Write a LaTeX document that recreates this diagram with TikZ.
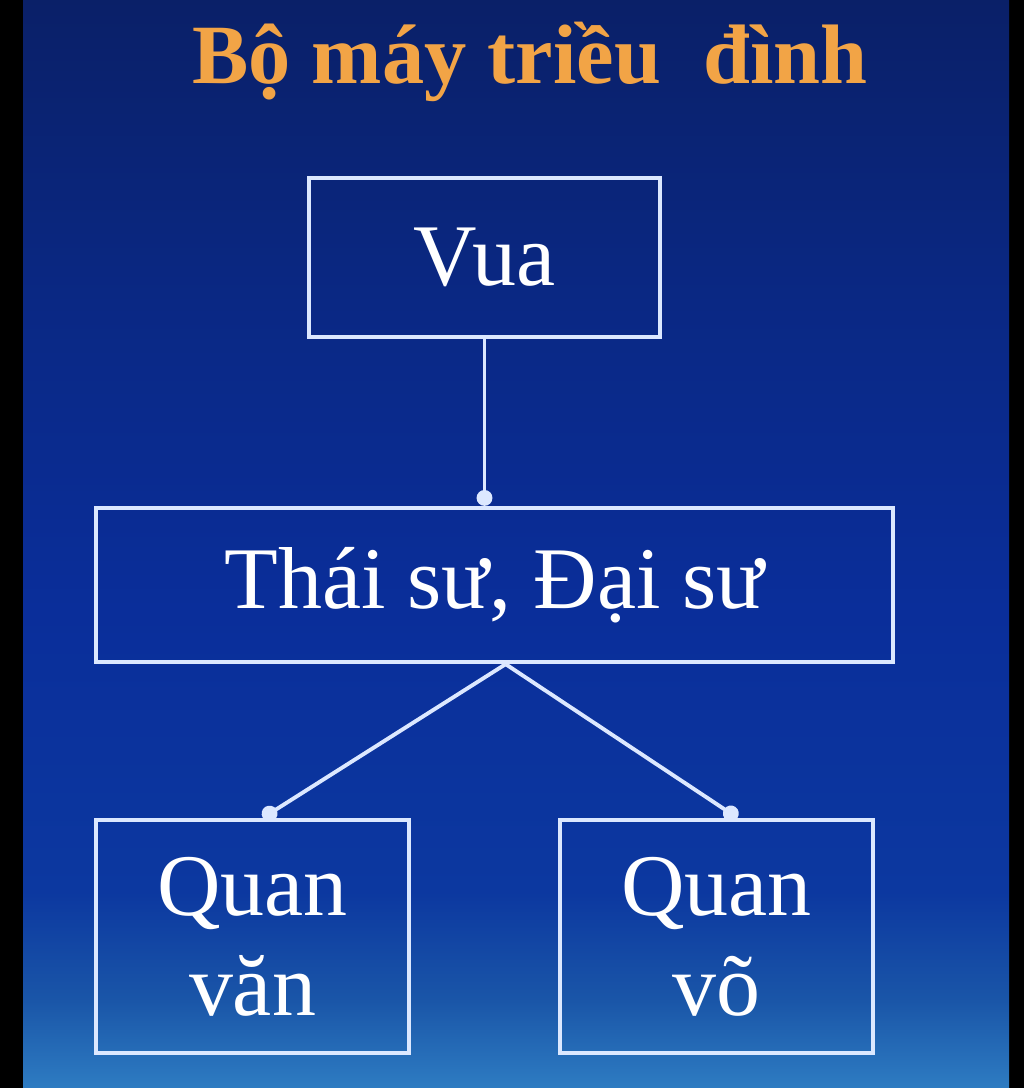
\documentclass[tikz,border=0pt]{standalone}
\usepackage{fontspec}
\setmainfont{Liberation Serif}
\usetikzlibrary{arrows.meta}

\definecolor{edge}{HTML}{DCE8FF}
\definecolor{titlecol}{HTML}{F2A446}
\pgfdeclareverticalshading{slidebg}{100bp}{
  rgb(0bp)=(0.180,0.486,0.761);
  rgb(25bp)=(0.180,0.486,0.761);
  rgb(29bp)=(0.102,0.337,0.659);
  rgb(34bp)=(0.047,0.220,0.627);
  rgb(47bp)=(0.039,0.180,0.604);
  rgb(61bp)=(0.039,0.157,0.518);
  rgb(75bp)=(0.039,0.125,0.408);
  rgb(100bp)=(0.039,0.125,0.408)}

\begin{document}
\begin{tikzpicture}[
  x=0.01cm, y=-0.01cm,
  box/.style={rectangle,draw=edge,line width=1.2pt,inner sep=0pt,
    text=white,font=\fontsize{25}{28.5}\selectfont,align=center},
  conn/.style={draw=edge,line width=1.1pt,-{Circle[length=4.5pt]}}
]

% background with black side bars
\fill[black] (0,0) rectangle (1024,1088);
\shade[shading=slidebg] (23,0) rectangle (1009,1088);

\node[text=titlecol,font=\fontsize{24}{28}\bfseries] (title) at (530,62) {Bộ máy triều\hspace{0.5em}đình};

\node[box,minimum width=3.51cm,minimum height=1.59cm] (vua) at (484.5,257.5) {Vua};
\node[box,minimum width=7.97cm,minimum height=1.54cm] (thai) at (494.5,585) {Thái sư, Đại sư};
\node[box,minimum width=3.13cm,minimum height=2.33cm] (van) at (252.5,936.5) {Quan\\văn};
\node[box,minimum width=3.13cm,minimum height=2.33cm] (vo) at (716.5,936.5) {Quan\\võ};

\draw[conn] (vua.south) -- (vua.south |- thai.north);
\draw[conn] (thai.-82) -- (van.85);
\draw[conn] (thai.-82) -- (vo.80);

\end{tikzpicture}
\end{document}
